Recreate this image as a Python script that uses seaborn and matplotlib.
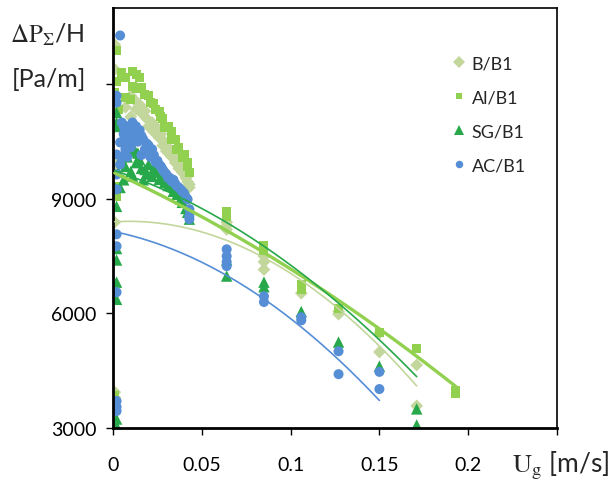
import numpy as np
import pandas as pd
import matplotlib
matplotlib.use("Agg")
import matplotlib.pyplot as plt
import seaborn as sns
from matplotlib.lines import Line2D

# ---------------- data ----------------
series_names = ["B/B1", "Al/B1", "SG/B1", "AC/B1"]

x_B = [0.001, 0.001, 0.001, 0.001, 0.001, 0.001, 0.001, 0.001, 0.001,
       0.007, 0.010, 0.010, 0.012, 0.013, 0.015, 0.016, 0.018, 0.019, 0.020,
       0.022, 0.023, 0.025, 0.026, 0.027, 0.028, 0.029, 0.030, 0.032, 0.033,
       0.034, 0.035, 0.036, 0.037, 0.038, 0.039, 0.040, 0.041, 0.042, 0.042,
       0.043, 0.043,
       0.064, 0.064, 0.064, 0.085, 0.085, 0.085, 0.106, 0.127, 0.127, 0.150,
       0.150, 0.171, 0.171]
y_B = [13040, 12390, 10900, 10100, 9800, 8390, 3940, 3800, 3680,
       11400, 11150, 11700, 11600, 11350, 11470, 11250, 11300, 11100, 10900,
       11000, 10750, 10850, 10600, 10700, 10400, 10500, 10250, 10300, 10100,
       10150, 9950, 10000, 9800, 9850, 9700, 9650, 9550, 9600, 9450,
       9380, 9300,
       8390, 8300, 8200, 7500, 7350, 7150, 6530, 6050, 5980, 5480,
       4990, 4650, 3580]

x_Al = [0.002, 0.002, 0.001, 0.003, 0.002, 0.002, 0.001,
        0.005, 0.007, 0.011, 0.013, 0.015, 0.007, 0.010, 0.011, 0.013, 0.016,
        0.018, 0.020, 0.021, 0.023, 0.024, 0.026, 0.027, 0.028, 0.029, 0.031,
        0.033, 0.033, 0.035, 0.036, 0.037, 0.039, 0.040, 0.042, 0.042, 0.043,
        0.064, 0.064, 0.085, 0.085, 0.106, 0.106, 0.127, 0.150, 0.171, 0.193,
        0.193]
y_Al = [12885, 12074, 11786, 11342, 9330, 9070, 3850,
        12310, 12180, 12340, 12260, 12180, 11650, 11600, 11940, 11880, 11920,
        11730, 11700, 11520, 11500, 11340, 11300, 11150, 11100, 10870, 10900,
        10770, 10560, 10550, 10300, 10350, 10090, 10150, 9850, 9950, 9700,
        8680, 8550, 7780, 7650, 6770, 6640, 6120, 5510, 5090, 3980,
        3900]

x_SG = [0.002, 0.002, 0.002, 0.002, 0.001, 0.002, 0.002, 0.002, 0.002, 0.002, 0.002,
        0.004, 0.005, 0.006, 0.007, 0.009, 0.010, 0.011, 0.012, 0.013, 0.015,
        0.016, 0.017, 0.018, 0.020, 0.022, 0.024, 0.026, 0.029, 0.031, 0.033,
        0.036, 0.038, 0.039, 0.041, 0.042, 0.043,
        0.008, 0.014, 0.019, 0.023, 0.027, 0.003, 0.034,
        0.064, 0.064, 0.085, 0.085, 0.106, 0.127, 0.150, 0.171, 0.171]
y_SG = [11263, 11000, 10897, 8805, 9300, 7700, 7400, 6820, 6370, 3235, 3052,
        9300, 10110, 9500, 9850, 10240, 9720, 9600, 10300, 9950, 10030,
        9800, 9500, 9770, 9900, 9590, 9700, 9510, 9430, 9350, 9330,
        9120, 9000, 8910, 8750, 8650, 8470,
        10100, 10200, 9650, 9800, 9600, 9700, 9200,
        7400, 6980, 6820, 6700, 6050, 5250, 4620, 3500, 3080]

x_AC = [0.004, 0.002, 0.002, 0.002, 0.002, 0.002, 0.002, 0.002, 0.002, 0.002, 0.002, 0.002,
        0.005, 0.008, 0.011, 0.013, 0.015, 0.006, 0.009, 0.012, 0.014, 0.017,
        0.004, 0.007, 0.010, 0.018, 0.020, 0.022, 0.005, 0.008, 0.021, 0.024,
        0.026, 0.028, 0.029, 0.031, 0.033, 0.035, 0.036, 0.038, 0.039, 0.041,
        0.042, 0.043, 0.043, 0.043, 0.004, 0.016,
        0.006, 0.009, 0.012, 0.007, 0.010, 0.013, 0.016, 0.019, 0.023, 0.025,
        0.027, 0.030, 0.032, 0.034, 0.037, 0.040,
        0.064, 0.064, 0.064, 0.064, 0.085, 0.085, 0.106, 0.106, 0.127, 0.127,
        0.150, 0.150]
y_AC = [13280, 11525, 11700, 10165, 9640, 9250, 8073, 7760, 6556, 3706, 3550, 3444,
        11000, 10900, 11000, 10900, 10800, 10700, 10600, 10640, 10500, 10560,
        10480, 10300, 10350, 10300, 10400, 10300, 10090, 10100, 10100, 9960,
        9900, 9770, 9700, 9550, 9460, 9400, 9330, 9250, 9200, 9050,
        8990, 8730, 8550, 8470, 9900, 10150,
        10900, 10800, 10850, 10500, 10500, 10700, 10650, 10450, 10150, 10000,
        9850, 9650, 9550, 9500, 9300, 9150,
        7680, 7500, 7350, 7240, 6450, 6300, 5900, 5820, 5010, 4410,
        4470, 4020]

# polynomial trendline coefficients (highest power first)
trend_B = [-164000, 2900, 8400]
trend_Al = [-40000, -21360, 9700]
trend_SG = [-95000, -15400, 9756]
trend_AC = [-133500, -9500, 8150]

y_ticks = [3000, 6000, 9000, 12000]
y_tick_labels = ["3000", "6000", "9000", ""]
x_ticks = [0, 0.05, 0.1, 0.15, 0.2, 0.25]
x_tick_labels = ["0", "0.05", "0.1", "0.15", "0.2", ""]

# ---------------- styling ----------------
colors = {"B/B1": "#C3D69B", "Al/B1": "#92D050", "SG/B1": "#27A84A", "AC/B1": "#558ED5"}
markers = {"B/B1": "D", "Al/B1": "s", "SG/B1": "^", "AC/B1": "o"}
sizes = {"B/B1": 42, "Al/B1": 42, "SG/B1": 68, "AC/B1": 52}
line_w = {"B/B1": 1.2, "Al/B1": 2.4, "SG/B1": 1.2, "AC/B1": 1.2}

sns.set_style("white")
plt.rcParams["font.family"] = ["Lato", "DejaVu Sans"]
plt.rcParams["mathtext.fontset"] = "stix"

xs = {"B/B1": x_B, "Al/B1": x_Al, "SG/B1": x_SG, "AC/B1": x_AC}
ys = {"B/B1": y_B, "Al/B1": y_Al, "SG/B1": y_SG, "AC/B1": y_AC}
trends = {"B/B1": trend_B, "Al/B1": trend_Al, "SG/B1": trend_SG, "AC/B1": trend_AC}

df = pd.concat([pd.DataFrame({"x": xs[n], "y": ys[n], "series": n}) for n in series_names],
               ignore_index=True)

fig = plt.figure(figsize=(6.1, 4.85), dpi=100)
ax = fig.add_axes([113 / 610, 1 - 429 / 485, 444 / 610, 420 / 485])

sns.scatterplot(data=df, x="x", y="y", hue="series", style="series", size="series",
                hue_order=series_names, palette=colors, markers=markers, sizes=sizes,
                linewidth=0, edgecolor="none", alpha=1.0, legend=False, ax=ax, zorder=2)

for n in series_names:
    xg = np.linspace(min(xs[n]), max(xs[n]), 200)
    sns.lineplot(x=xg, y=np.polyval(trends[n], xg), color=colors[n], lw=line_w[n],
                 ax=ax, zorder=3, estimator=None, sort=False)

ax.set_xlim(0, 0.25)
ax.set_ylim(3000, 14000)
ax.set_xticks(x_ticks)
ax.set_xticklabels(x_tick_labels)
ax.set_yticks(y_ticks)
ax.set_yticklabels(y_tick_labels)
ax.set_xlabel("")
ax.set_ylabel("")
ax.tick_params(axis="both", direction="out", length=5, width=1.0, colors="black",
               labelsize=14, labelcolor="black")
ax.tick_params(axis="x", pad=15, bottom=True)
ax.tick_params(axis="y", pad=7, left=True)
for side in ["left", "bottom"]:
    ax.spines[side].set_linewidth(2.0)
    ax.spines[side].set_color("black")
for side in ["top", "right"]:
    ax.spines[side].set_linewidth(1.2)
    ax.spines[side].set_color("black")
ax.grid(False)

handles = [Line2D([], [], linestyle="none", marker="D", markersize=6.2, color=colors["B/B1"], markeredgewidth=0),
           Line2D([], [], linestyle="none", marker="s", markersize=4.4, color=colors["Al/B1"], markeredgewidth=0),
           Line2D([], [], linestyle="none", marker="^", markersize=7.6, color=colors["SG/B1"], markeredgewidth=0),
           Line2D([], [], linestyle="none", marker="o", markersize=5.4, color=colors["AC/B1"], markeredgewidth=0)]
ax.legend(handles, ["B/B1", "Al/B1", "SG/B1", "AC/B1"], loc="center left",
          bbox_to_anchor=(450 / 610, 1 - 115.5 / 485), bbox_transform=fig.transFigure,
          frameon=False, fontsize=13, handlelength=1.0, handletextpad=0.2,
          labelspacing=1.0, borderpad=0, borderaxespad=0)

fig.text(10 / 610, 1 - 43 / 485, r"$\Delta\mathrm{P}_{\Sigma}$/H", fontsize=18,
         ha="left", va="baseline")
fig.text(12 / 610, 1 - 87 / 485, "[Pa/m]", fontsize=18, ha="left", va="baseline")
fig.text(512 / 610, 1 - 472 / 485, r"$\mathrm{U}_{\mathrm{g}}$ [m/s]", fontsize=19,
         ha="left", va="baseline")

fig.savefig("out.png", dpi=100)
